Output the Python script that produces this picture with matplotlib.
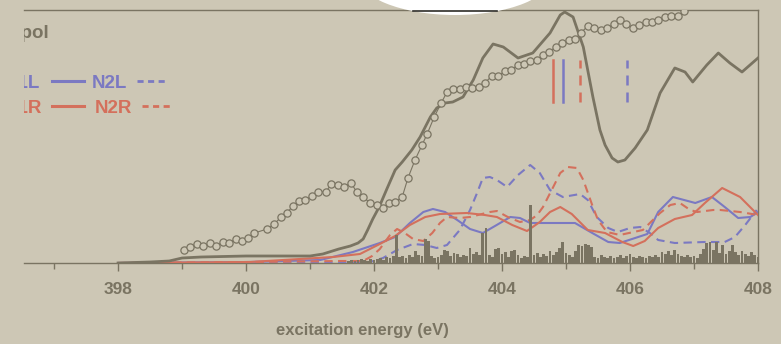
import numpy as np
import matplotlib
matplotlib.use('Agg')
import matplotlib.pyplot as plt
from matplotlib.patches import Ellipse
from matplotlib.lines import Line2D

plt.rcParams['font.family'] = ['Liberation Sans', 'DejaVu Sans']

BG = '#cdc7b5'
GRAY = '#7a7462'
BLUE = '#7b79c2'
RED = '#d4705c'

# experiment (circles)
exp_e = [399.03, 399.13, 399.23, 399.33, 399.44, 399.53, 399.64, 399.73, 399.84, 399.94,
         400.03, 400.13, 400.33, 400.44, 400.55, 400.64, 400.73, 400.83, 400.92, 401.03,
         401.13, 401.25, 401.33, 401.44, 401.53, 401.64, 401.73, 401.83, 401.94, 402.05,
         402.14, 402.23, 402.33, 402.44, 402.53, 402.64, 402.75, 402.83, 402.94, 403.05,
         403.14, 403.23, 403.34, 403.44, 403.53, 403.64, 403.73, 403.84, 403.94, 404.05,
         404.14, 404.25, 404.34, 404.44, 404.55, 404.64, 404.73, 404.84, 404.94, 405.05,
         405.14, 405.23, 405.34, 405.44, 405.55, 405.64, 405.75, 405.84, 405.94, 406.05,
         406.14, 406.25, 406.34, 406.44, 406.55, 406.64, 406.75, 406.84]
exp_i = [13, 16, 19, 17, 20, 17, 21, 20, 24, 22,
         25, 30, 34, 39, 46, 50, 57, 62, 63, 67,
         71, 71, 79, 78, 76, 80, 71, 66, 60, 58,
         55, 60, 61, 66, 85, 103, 118, 129, 146, 160,
         171, 174, 174, 176, 175, 176, 180, 187, 187, 192,
         193, 198, 199, 202, 203, 208, 211, 216, 220, 223,
         224, 230, 237, 235, 233, 235, 239, 243, 239, 235,
         238, 241, 241, 243, 246, 247, 247, 252]

# total calculated spectrum
tot_e = [398.0, 398.5, 398.8, 399.0, 399.3, 400.0, 401.0, 401.2, 401.45, 401.63,
         401.75, 401.83, 401.9, 401.98, 402.08, 402.2, 402.33, 402.44, 402.59, 402.72,
         402.88, 402.98, 403.11, 403.23, 403.39, 403.55, 403.7, 403.86, 404.02, 404.25,
         404.48, 404.75, 404.91, 404.98, 405.11, 405.27, 405.42, 405.53, 405.61, 405.72,
         405.81, 405.92, 406.08, 406.27, 406.47, 406.7, 406.86, 406.98, 407.2, 407.38,
         407.56, 407.75, 408.0]
tot_i = [0, 1, 2, 5, 6, 7, 7, 9, 14, 17,
         20, 24, 33, 44, 56, 74, 93, 101, 113, 126,
         146, 155, 160, 161, 166, 183, 205, 219, 216, 205,
         210, 230, 248, 251, 246, 216, 166, 133, 118, 105,
         101, 103, 115, 133, 170, 195, 191, 181, 198, 210,
         200, 191, 205]

n1l_e = [398.0, 400.06, 401.16, 401.67, 402.09, 402.33, 402.56, 402.77, 402.92, 403.11,
         403.3, 403.5, 403.7, 403.89, 404.13, 404.28, 404.44, 404.83, 405.14, 405.41,
         405.66, 405.84, 406.08, 406.27, 406.44, 406.67, 407.02, 407.28, 407.48, 407.69,
         407.88, 408.0]
n1l_i = [0, 1, 3, 11, 20, 26, 40, 51, 54, 51,
         43, 34, 30, 37, 46, 45, 40, 40, 40, 30,
         21, 20, 25, 29, 51, 66, 60, 66, 56, 45,
         46, 51]

n2l_e = [398.0, 400.84, 401.94, 402.14, 402.36, 402.61, 402.8, 402.98, 403.14, 403.34,
         403.5, 403.61, 403.7, 403.81, 403.92, 404.08, 404.25, 404.44, 404.59, 404.75,
         404.95, 405.22, 405.34, 405.48, 405.66, 405.81, 406.0, 406.16, 406.31, 406.44,
         406.7, 407.17, 407.48, 407.64, 407.8, 407.98]
n2l_i = [0, 0, 1, 5, 13, 19, 18, 15, 18, 33,
         53, 70, 85, 86, 83, 76, 88, 98, 90, 73,
         66, 69, 63, 46, 35, 31, 35, 36, 30, 23,
         20, 21, 21, 26, 38, 53]

n1r_e = [398.0, 400.06, 401.36, 401.78, 402.09, 402.33, 402.56, 402.8, 403.03, 403.45,
         403.73, 403.92, 404.16, 404.39, 404.59, 404.75, 404.91, 405.09, 405.34, 405.61,
         405.88, 406.05, 406.23, 406.44, 406.7, 406.97, 407.17, 407.44, 407.72, 408.0]
n1r_i = [0, 1, 6, 9, 19, 27, 38, 46, 49, 50,
         48, 46, 38, 32, 41, 51, 56, 49, 33, 30,
         21, 17, 22, 35, 44, 48, 60, 75, 66, 48]

n2r_e = [398.0, 400.06, 401.47, 401.83, 401.97, 402.09, 402.25, 402.36, 402.48, 402.61,
         402.77, 402.91, 403.03, 403.14, 403.34, 403.5, 403.81, 403.92, 404.09, 404.28,
         404.44, 404.55, 404.64, 404.8, 404.91, 405.03, 405.17, 405.27, 405.42, 405.5,
         405.64, 405.84, 406.2, 406.31, 406.47, 406.63, 406.78, 406.94, 407.05, 407.3,
         407.41, 407.72, 408.0]
n2r_i = [0, 1, 2, 2, 7, 14, 28, 34, 30, 24,
         22, 30, 40, 46, 45, 46, 51, 52, 46, 41,
         43, 48, 56, 76, 90, 96, 95, 83, 56, 43,
         31, 28, 33, 40, 50, 58, 60, 53, 51, 53,
         53, 51, 48]

# transition sticks, from 401.60 eV every 0.05 eV
STICK_START = 401.6
STICK_STEP = 0.05
stick_h = [2, 3, 2, 3, 4, 3, 2, 4, 3, 4,
           5, 3, 6, 5, 7, 28, 6, 7, 5, 8,
           6, 12, 8, 7, 24, 22, 7, 5, 6, 8,
           13, 12, 7, 10, 9, 6, 8, 7, 15, 9,
           11, 8, 30, 35, 8, 6, 14, 15, 9, 11,
           6, 12, 13, 8, 5, 7, 6, 58, 8, 10,
           6, 9, 7, 12, 8, 11, 15, 21, 10, 8,
           6, 12, 18, 17, 19, 18, 16, 6, 5, 8,
           6, 5, 7, 5, 6, 8, 5, 7, 9, 6,
           5, 7, 6, 5, 7, 6, 8, 6, 11, 9,
           12, 8, 13, 9, 7, 6, 8, 6, 7, 5,
           9, 14, 20, 21, 13, 21, 10, 18, 9, 12,
           18, 11, 8, 12, 9, 7, 11, 8, 6]

# marker lines (energy, color, dashed)
marks_e = [404.80, 404.95, 405.22, 405.95]
marks_c = [RED, BLUE, RED, BLUE]
marks_dashed = [False, False, True, True]

fig = plt.figure(figsize=(7.81, 3.44), dpi=100, facecolor=BG)
ax = fig.add_axes([24/781, 81/344, 734/781, 253/344], facecolor=BG)

dash = (0, (4, 2.6))
ax.plot(n1l_e, n1l_i, color=BLUE, lw=1.5, zorder=3)
ax.plot(n2l_e, n2l_i, color=BLUE, lw=1.5, ls=dash, zorder=3)
ax.plot(n1r_e, n1r_i, color=RED, lw=1.5, zorder=3)
ax.plot(n2r_e, n2r_i, color=RED, lw=1.5, ls=dash, zorder=3)

sx = STICK_START + STICK_STEP * np.arange(len(stick_h))
ax.bar(sx, stick_h, width=0.042, color=GRAY, lw=0, zorder=4)

ax.plot(tot_e, tot_i, color=GRAY, lw=2.0, zorder=5, solid_joinstyle='round')
ax.plot(exp_e, exp_i, 'o-', color=GRAY, lw=0.8, ms=5.2, mfc=BG, mec=GRAY,
        mew=0.9, zorder=6)

for e, c, d in zip(marks_e, marks_c, marks_dashed):
    ax.plot([e, e], [161, 203], color=c, lw=1.8,
            ls=(0, (4, 2.8)) if d else '-', zorder=3)

# legend written as text, cut by the left edge like the original
tkw = dict(fontsize=13.5, fontweight='bold', clip_on=True, va='baseline')
ax.text(396.92, 225, 's-pol', color=GRAY, ha='right', **tkw)
ax.text(396.78, 175, 'N1L', color=BLUE, ha='right', **tkw)
ax.text(396.81, 150, 'N1R', color=RED, ha='right', **tkw)
ax.text(397.59, 175, 'N2L', color=BLUE, ha='left', **tkw)
ax.text(397.64, 150, 'N2R', color=RED, ha='left', **tkw)
ax.plot([396.97, 397.47], [182, 182], color=BLUE, lw=2.2)
ax.plot([396.97, 397.47], [157, 157], color=RED, lw=2.2)
ax.plot([398.30, 398.77], [182, 182], color=BLUE, lw=2.0, ls=(0, (2.2, 1.6)))
ax.plot([398.375, 398.84], [157, 157], color=RED, lw=2.0, ls=(0, (2.2, 1.6)))

ax.set_xlim(396.53, 408.0)
ax.set_ylim(0, 253)
ax.set_yticks([])
ax.spines['left'].set_visible(False)
for s in ['top', 'right', 'bottom']:
    ax.spines[s].set_color(GRAY)
    ax.spines[s].set_linewidth(1.0)
ax.set_xticks([398, 400, 402, 404, 406, 408])
ax.set_xticks([397, 399, 401, 403, 405, 407], minor=True)
ax.tick_params(axis='x', which='major', length=6, width=1.0, color=GRAY,
               labelcolor=GRAY, labelsize=12.5, pad=8)
ax.tick_params(axis='x', which='minor', length=4, width=1.0, color=GRAY)
for lbl in ax.get_xticklabels():
    lbl.set_fontweight('bold')

ax.set_xlabel('excitation energy (eV)', fontsize=12, fontweight='bold',
              color=GRAY, va='center')
ax.xaxis.set_label_coords((362 - 24) / 734, -(330 - 263) / 253)

# white lens at the top edge
fig.patches.append(Ellipse((455/781, 1 + 25/344), 196/781, 80/344,
                           transform=fig.transFigure, facecolor='white',
                           edgecolor='none', zorder=5))
fig.add_artist(Line2D([413/781, 497/781], [1 - 10.5/344, 1 - 10.5/344],
                      transform=fig.transFigure, color='#2e2c28', lw=1.2,
                      zorder=6))

fig.savefig('out.png', dpi=100, facecolor=BG)
